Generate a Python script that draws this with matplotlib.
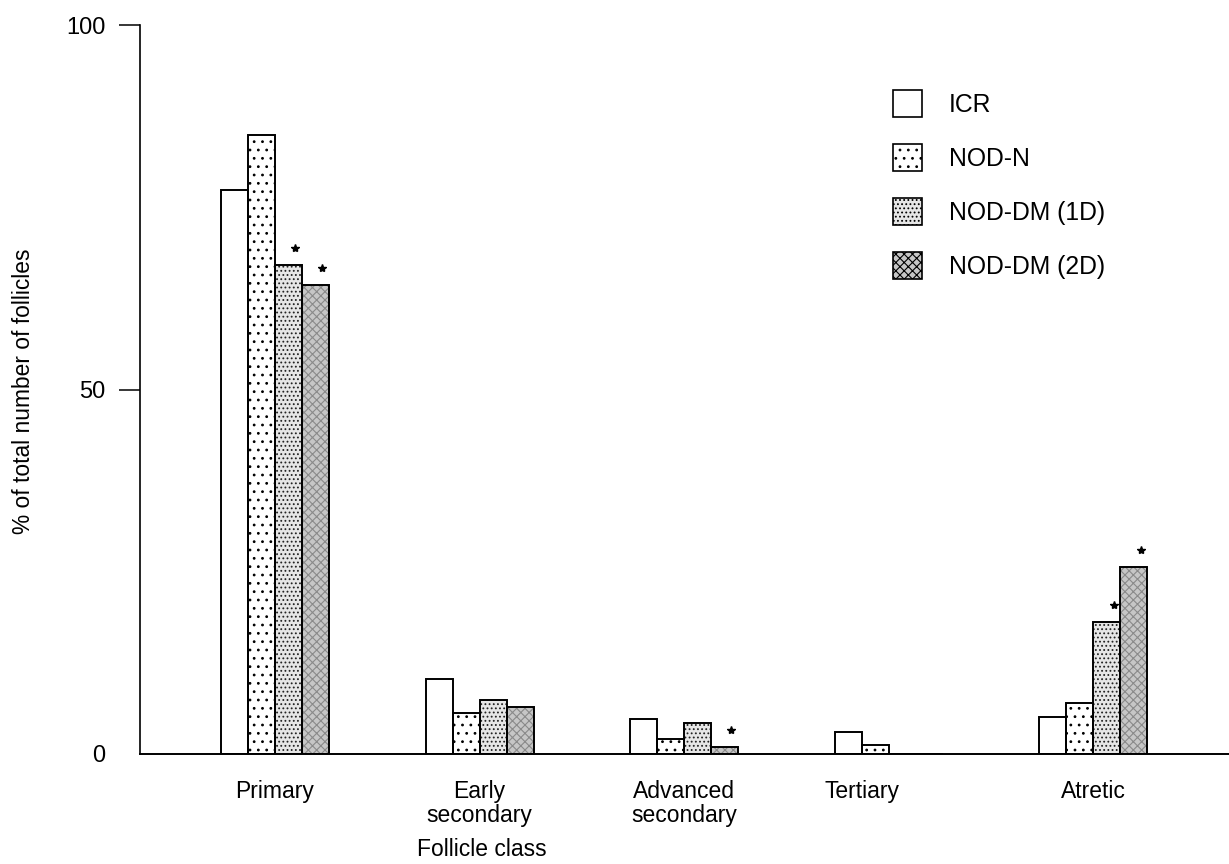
import matplotlib.pyplot as plt
import matplotlib.patches as mpatches
import numpy as np

plt.rcParams['font.family'] = ['Liberation Sans', 'DejaVu Sans']
plt.rcParams['hatch.linewidth'] = 0.8

# data (% of total number of follicles)
classes = ['Primary', 'Early\nsecondary', 'Advanced\nsecondary', 'Tertiary', 'Atretic']
groups = ['ICR', 'NOD-N', 'NOD-DM (1D)', 'NOD-DM (2D)']
icr = [77.4, 10.3, 4.8, 3.0, 5.1]
nod_n = [84.9, 5.6, 2.1, 1.2, 7.0]
nod_dm1 = [67.1, 7.4, 4.3, 0, 18.1]
nod_dm2 = [64.3, 6.4, 1.0, 0, 25.7]
# significance stars
sig_dm1 = [True, False, False, False, True]
sig_dm2 = [True, False, True, False, True]

series = [icr, nod_n, nod_dm1, nod_dm2]
stars = [None, None, sig_dm1, sig_dm2]
# face, hatch, hatch colour
styles = [('white', '', 'black'),
          ('white', '..', 'black'),
          ('#e6e6e6', '....', '#222222'),
          ('#c6c6c6', 'xxxx', '#8a8a8a')]

fig = plt.figure(figsize=(12.29, 8.64), dpi=100)
ax = fig.add_axes([140/1229, 1 - 754/864, 1 - 140/1229, (754 - 25)/864])

x = np.arange(len(classes))
w = 0.132

for i, vals in enumerate(series):
    fc, hatch, hc = styles[i]
    pos = x + (i - 1.5)*w
    ax.bar(pos, vals, w, color=fc, hatch=hatch, edgecolor=hc, linewidth=0, zorder=2)
    ax.bar(pos, vals, w, fill=False, edgecolor='black', linewidth=1.4, zorder=3)
    if stars[i] is not None:
        for p, v, s in zip(pos, vals, stars[i]):
            if s:
                ax.plot(p + 0.25*w, v + 2.3, marker='*', color='black',
                        markersize=6, zorder=4)

ax.set_xlim(-0.66, 4.663)
ax.set_ylim(0, 100)
ax.spines['top'].set_visible(False)
ax.spines['right'].set_visible(False)
ax.spines['left'].set_bounds(0, 100)
ax.spines['left'].set_linewidth(1.2)
ax.spines['bottom'].set_linewidth(1.4)

# tertiary label sits under the two visible bars
tick_pos = x.astype(float)
tick_pos[3] -= w
ax.set_xticks(tick_pos)
ax.set_xticklabels(classes, fontsize=16.5, linespacing=1.05)
ax.tick_params(axis='x', length=0, pad=19)

ax.set_yticks([0, 50, 100])
ax.tick_params(axis='y', length=15, width=1.1, pad=10, labelsize=17)
ax.yaxis.get_major_ticks()[0].tick1line.set_visible(False)

fig.text(24/1229, 1 - 391/864, '% of total number of follicles', rotation=90,
         ha='center', va='center', fontsize=16.4)
fig.text(482/1229, 1 - 849/864, 'Follicle class', ha='center', va='center',
         fontsize=16.5)

handles = []
for i, g in enumerate(groups):
    fc, hatch, hc = styles[i]
    handles.append(mpatches.Patch(facecolor=fc, hatch=hatch, edgecolor='black',
                                  linewidth=1.2, label=g))
fig.legend(handles=handles, loc='upper left', bbox_to_anchor=(893/1229, 1 - 90/864),
           frameon=False, fontsize=17.8, handlelength=1.17, handleheight=1.3,
           handletextpad=1.1, labelspacing=1.1, borderpad=0, borderaxespad=0)

fig.savefig('out.png', dpi=100)
